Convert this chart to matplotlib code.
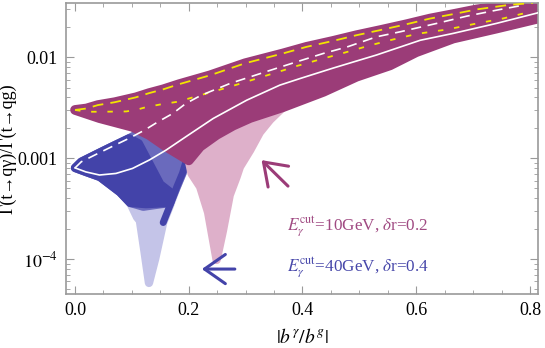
import numpy as np
import matplotlib
matplotlib.use("Agg")
import matplotlib.pyplot as plt
from matplotlib.ticker import FixedLocator, LogLocator, NullFormatter, MultipleLocator

# =========================================================
# Data (x = |b^gamma/b^g|, y = ratio)
# =========================================================
# yellow dashed, upper edge of the 10 GeV scan
upper_yellow_x = [0.0, 0.02, 0.04, 0.07, 0.107, 0.13, 0.155, 0.183, 0.237, 0.299,
                  0.366, 0.407, 0.454, 0.495, 0.536, 0.583, 0.624, 0.665, 0.706, 0.759, 0.805]
upper_yellow_y = [0.0030, 0.0031, 0.00335, 0.00358, 0.0040, 0.0044, 0.0048, 0.0054, 0.0066, 0.0087,
                  0.0109, 0.01265, 0.0145, 0.0165, 0.0185, 0.0212, 0.0241, 0.0267, 0.0297, 0.0327, 0.0345]

# yellow dashed, lower one
lower_yellow_x = [0.0, 0.02, 0.05, 0.09, 0.107, 0.125, 0.15, 0.178, 0.19, 0.273, 0.366,
                  0.384, 0.431, 0.472, 0.519, 0.560, 0.601, 0.654, 0.700, 0.753, 0.800]
lower_yellow_y = [0.0030, 0.00288, 0.00288, 0.0029, 0.0030, 0.0032, 0.0034, 0.0036, 0.00375, 0.0051, 0.0074,
                  0.0080, 0.0095, 0.0110, 0.0131, 0.0150, 0.0170, 0.0188, 0.0212, 0.0242, 0.0281]

# white dashed
white_dash_x = [0.0, 0.011, 0.040, 0.066, 0.095, 0.122, 0.146, 0.172, 0.195, 0.222, 0.273,
                0.343, 0.39, 0.437, 0.478, 0.53, 0.571, 0.636, 0.689, 0.741, 0.788]
white_dash_y = [0.00080, 0.00092, 0.00111, 0.00131, 0.00157, 0.00189, 0.00229, 0.00277, 0.00348, 0.0042, 0.0055,
                0.0074, 0.0090, 0.0109, 0.0126, 0.0159, 0.0178, 0.0216, 0.0255, 0.0292, 0.0327]

# white solid
white_solid_x = [0.0, 0.019, 0.043, 0.072, 0.101, 0.131, 0.160, 0.195, 0.243, 0.302,
                 0.360, 0.396, 0.454, 0.530, 0.607, 0.665, 0.741, 0.814]
white_solid_y = [0.00080, 0.00073, 0.00068, 0.000705, 0.00079, 0.00096, 0.0012, 0.00163, 0.00247, 0.00375,
                 0.00528, 0.00615, 0.0078, 0.0105, 0.0147, 0.0172, 0.0216, 0.0275]

# lower edge of the dark 10 GeV band
mag_low_x = [0.0, 0.043, 0.101, 0.13, 0.16, 0.2, 0.22, 0.249, 0.278, 0.308, 0.366,
             0.437, 0.495, 0.554, 0.6, 0.665, 0.741, 0.814]
mag_low_y = [0.0030, 0.00249, 0.00204, 0.0017, 0.0013, 0.00095, 0.0013, 0.0017, 0.0021, 0.0025, 0.0032,
             0.00454, 0.0064, 0.0083, 0.0112, 0.0153, 0.0192, 0.0241]

# light pink tail of the 10 GeV scan
pink_low_x = [0.2, 0.205, 0.22, 0.234, 0.249, 0.26, 0.272, 0.284, 0.29, 0.308, 0.325, 0.343, 0.366]
pink_low_y = [0.00095, 0.0007, 0.00052, 0.00029, 0.000098, 0.00019, 0.00043, 0.00065, 0.00082,
              0.0012, 0.0018, 0.0024, 0.0032]

# lower edge of the 40 GeV scan
blue_low_x = [0.0, 0.019, 0.044, 0.079, 0.097, 0.109, 0.114, 0.122, 0.13, 0.141, 0.155, 0.167, 0.179, 0.189, 0.197]
blue_low_y = [0.00080, 0.00073, 0.00065, 0.00046, 0.00036, 0.00026, 0.00024, 0.00012, 0.000058, 0.000101,
              0.00023, 0.00034, 0.00052, 0.00071, 0.0010]

# where the 40 GeV scan stops being dense (pale tail below)
blue_mid_x = [0.197, 0.189, 0.179, 0.167, 0.12, 0.097]
blue_mid_y = [0.0010, 0.00071, 0.00052, 0.00036, 0.00033, 0.00036]

# outline of the darkest part of the 40 GeV scan
blue_dark_x = [0.0, 0.011, 0.040, 0.066, 0.095, 0.112, 0.13, 0.15, 0.17, 0.167, 0.125, 0.097, 0.079, 0.044, 0.019]
blue_dark_y = [0.00080, 0.00092, 0.00111, 0.00131, 0.00157, 0.0014, 0.0009, 0.00055, 0.00045, 0.00036,
               0.00035, 0.00036, 0.00046, 0.00065, 0.00073]

xticks = [0.0, 0.2, 0.4, 0.6, 0.8]
xtick_labels = ["0.0", "0.2", "0.4", "0.6", "0.8"]
yticks = [1e-4, 1e-3, 1e-2]
ytick_labels = [r"$10^{-4}$", "0.001", "0.01"]

label_mag = r"$E_\gamma^{\rm cut}$=10GeV, $\delta$r=0.2"
label_blue = r"$E_\gamma^{\rm cut}$=40GeV, $\delta$r=0.4"

# =========================================================
# Style
# =========================================================
plt.rcParams["font.family"] = ["Liberation Serif", "DejaVu Serif"]
plt.rcParams["mathtext.fontset"] = "stix"

MAG = "#9b3c78"
PINK = "#deb0ca"
BLUE = "#4343a9"
BLUE_MID = "#6a6abd"
BLUE_PALE = "#c4c4e8"
GRAY = "#9a9a9a"

fig = plt.figure(figsize=(5.45, 3.48), dpi=100)
ax = fig.add_axes([0.121, 0.155, 0.866, 0.836])
ax.set_yscale("log")
ax.set_xlim(-0.016, 0.814)
ax.set_ylim(4.5e-5, 0.0343)

# blue scan: pale tail, medium body, dark left part
ax.fill(white_dash_x[:9] + blue_low_x[::-1], white_dash_y[:9] + blue_low_y[::-1],
        fc=BLUE_PALE, ec=BLUE_PALE, lw=6, joinstyle="round", zorder=1)
ax.fill(white_dash_x[:9] + blue_mid_x + blue_low_x[3::-1], white_dash_y[:9] + blue_mid_y + blue_low_y[3::-1],
        fc=BLUE_MID, ec=BLUE_MID, lw=6, joinstyle="round", zorder=1.1)
ax.plot(blue_low_x[10:], blue_low_y[10:], color=BLUE, lw=5, solid_capstyle="round", zorder=1.2)
ax.fill(blue_dark_x, blue_dark_y, fc=BLUE, ec=BLUE, lw=6, joinstyle="round", zorder=1.3)

# pink tail
ax.fill(pink_low_x + mag_low_x[10:4:-1], pink_low_y + mag_low_y[10:4:-1],
        fc=PINK, ec=PINK, lw=6, joinstyle="round", zorder=1.5)

# dark magenta band
ax.fill(upper_yellow_x + mag_low_x[::-1], upper_yellow_y + mag_low_y[::-1],
        fc=MAG, ec=MAG, lw=7, joinstyle="round", zorder=2)

# curves
ax.plot(upper_yellow_x, upper_yellow_y, color="#f2e400", lw=1.3, dashes=(6, 4), zorder=3)
ax.plot(lower_yellow_x, lower_yellow_y, color="#f2e400", lw=1.3, dashes=(3, 6), zorder=3)
ax.plot(white_dash_x, white_dash_y, color="white", lw=1.2, dashes=(6, 4), zorder=3)
ax.plot(white_solid_x, white_solid_y, color="white", lw=1.2, zorder=3)

# arrows + labels
ax.annotate("", xy=(0.328, 0.000955), xytext=(0.3745, 0.000528),
            arrowprops=dict(arrowstyle="->,head_length=0.5,head_width=0.35", color=MAG, lw=2.2,
                            mutation_scale=30, shrinkA=0, shrinkB=0), zorder=4)
ax.annotate("", xy=(0.223, 7.96e-5), xytext=(0.281, 7.96e-5),
            arrowprops=dict(arrowstyle="->,head_length=0.5,head_width=0.35", color=BLUE, lw=2.2,
                            mutation_scale=30, shrinkA=0, shrinkB=0), zorder=4)
ax.text(0.373, 0.000207, label_mag, color="#a04a82", fontsize=12.3, va="center")
ax.text(0.373, 8.15e-5, label_blue, color="#4848aa", fontsize=12.3, va="center")

# axes
ax.xaxis.set_major_locator(FixedLocator(xticks))
ax.set_xticklabels(xtick_labels)
ax.xaxis.set_minor_locator(MultipleLocator(0.05))
ax.yaxis.set_major_locator(FixedLocator(yticks))
ax.set_yticklabels(ytick_labels)
ax.yaxis.set_minor_locator(LogLocator(base=10, subs=np.arange(2, 10)))
ax.yaxis.set_minor_formatter(NullFormatter())
ax.tick_params(which="both", direction="in", top=True, right=True, color=GRAY,
               labelsize=13, pad=6)
ax.tick_params(which="major", length=6)
ax.tick_params(which="minor", length=3)
for s in ax.spines.values():
    s.set_color(GRAY)
    s.set_linewidth(1.2)

ax.set_xlabel(r"$|b^\gamma/b^g|$", fontsize=14, labelpad=6)
ax.set_ylabel("Γ(t→qγ)/Γ(t→qg)", fontsize=13, labelpad=1)

fig.savefig("out.png", dpi=100)
